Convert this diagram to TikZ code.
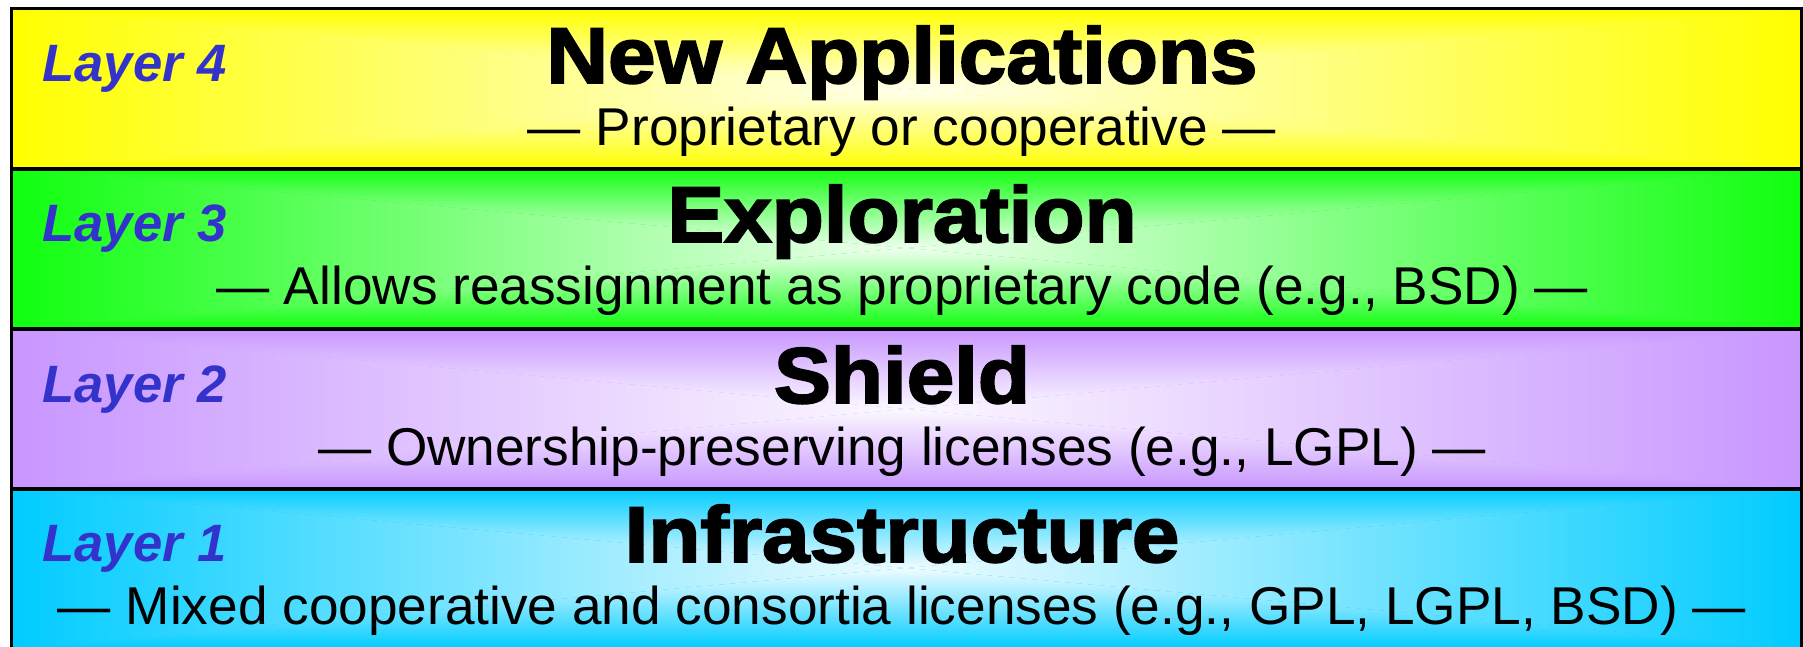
\documentclass[tikz,border=0pt]{standalone}
\usepackage{fontspec}
\setmainfont{Liberation Sans}
\newfontfamily\headfont[FakeStretch=1.08,FakeBold=2.5]{Liberation Sans}
\definecolor{bandyellow}{RGB}{255,255,0}
\definecolor{bandgreen}{RGB}{16,255,16}
\definecolor{bandpurple}{RGB}{200,150,255}
\definecolor{bandblue}{RGB}{0,204,255}
\definecolor{layerblue}{RGB}{51,51,204}
\tikzset{
    layerlabel/.style={anchor=base west, inner sep=0pt, text=layerblue,
        font=\fontsize{26.3}{26.3}\selectfont\bfseries\itshape},
    headline/.style={anchor=base, inner sep=0pt,
        font=\headfont\fontsize{39.5}{39.5}\selectfont\bfseries},
    subline/.style={anchor=base, inner sep=0pt,
        font=\fontsize{26.6}{26.6}\selectfont},
    bandedge/.style={draw=black, line width=1.5pt}
}

\begin{document}
\begin{tikzpicture}[x=0.5pt, y=-0.5pt]
    \useasboundingbox (0,0) rectangle (1803,647);
    \def \xl {11}
    \def \xr {1801}
    \def \xm {906}
    \def \h {160}
    % bands, shaded from the centre out to the edges
    \foreach \i/\t/\c in {4/9/bandyellow, 3/168/bandgreen, 2/329/bandpurple, 1/488/bandblue}{
        \pgfmathsetmacro{\m}{\t+\h/2}
        \pgfmathsetmacro{\b}{\t+\h}
        \fill[\c] (\xl,\t) rectangle (\xr,\b);
        \shade[top color=\c, middle color=\c!45!white, bottom color=\c!6!white]
            (\xl,\t) -- (\xr,\t) -- (\xm,\m) -- cycle;
        \shade[top color=\c!6!white, middle color=\c!45!white, bottom color=\c]
            (\xl,\b) -- (\xr,\b) -- (\xm,\m) -- cycle;
        \shade[left color=\c, middle color=\c!45!white, right color=\c!6!white]
            (\xl,\t) -- (\xl,\b) -- (\xm,\m) -- cycle;
        \shade[left color=\c!6!white, middle color=\c!45!white, right color=\c]
            (\xr,\t) -- (\xr,\b) -- (\xm,\m) -- cycle;
    }
    \foreach \t in {9, 168, 329, 488}{
        \draw[bandedge] (\xl,\t) rectangle (\xr,\t+\h);
    }
    % texts
    \foreach \i/\t/\head/\sub in {
        4/9/New Applications/{— Proprietary or cooperative —},
        3/168/Exploration/{— Allows reassignment as proprietary code (e.g., BSD) —},
        2/329/Shield/{— Ownership-preserving licenses (e.g., LGPL) —},
        1/488/Infrastructure/{— Mixed cooperative and consortia licenses (e.g., GPL, LGPL, BSD) —}}{
        \node[layerlabel] (layer\i) at (42,\t+73) {Layer \i};
        \node[headline] (head\i) at (902,\t+74) {\head};
        \node[subline] (sub\i) at (902,\t+136) {\sub};
    }
\end{tikzpicture}
\end{document}
